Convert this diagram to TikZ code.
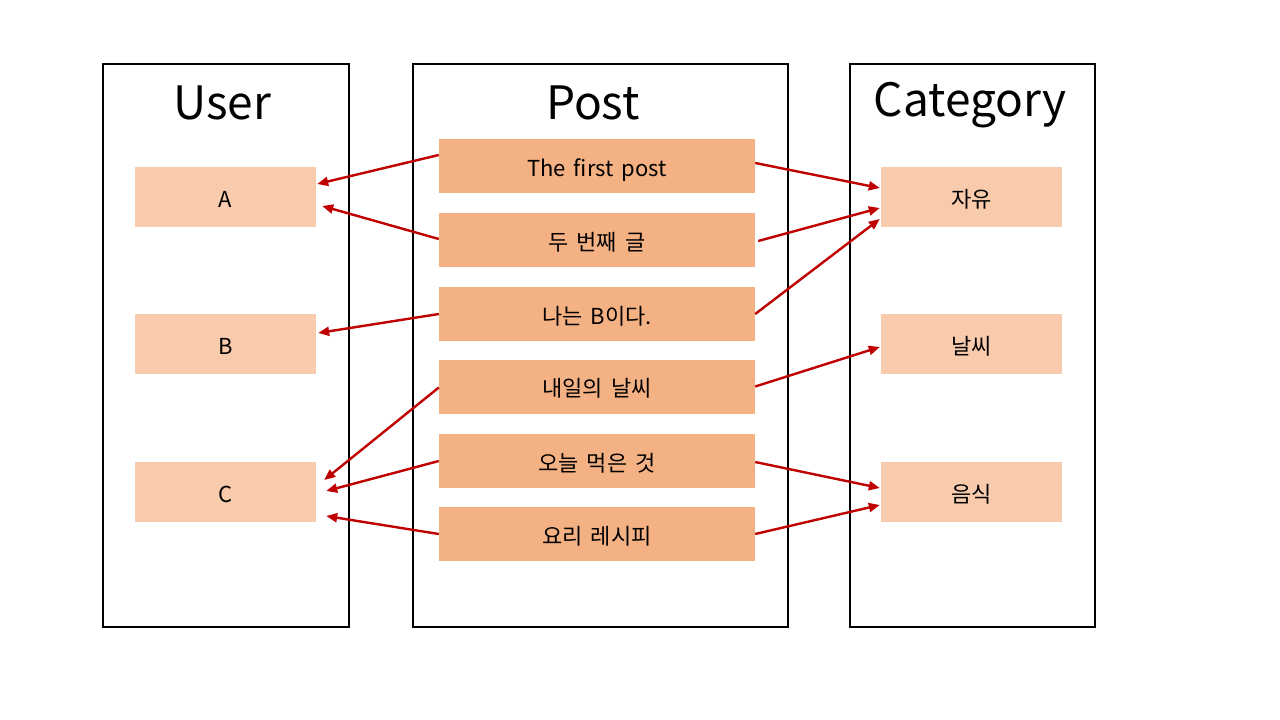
\documentclass[tikz,border=0pt]{standalone}
\usepackage{fontspec}
\setmainfont[WordSpace=1.6]{Noto Sans CJK KR}
\usetikzlibrary{arrows.meta}
\definecolor{darkpeach}{HTML}{F4B183}
\definecolor{lightpeach}{HTML}{F8CBAD}
\definecolor{arrowred}{HTML}{C00000}
\tikzset{
  panel/.style={draw=black, line width=2pt, anchor=north west, inner sep=0pt},
  title/.style={font=\fontsize{46}{50}\selectfont, anchor=center, inner sep=0pt},
  item/.style={fill=lightpeach, draw=none, minimum width=181pt, minimum height=60pt, inner sep=0pt, text height=23pt, text depth=3pt, font=\fontsize{22}{24}\selectfont},
  post/.style={fill=darkpeach, draw=none, minimum width=316pt, minimum height=54pt, inner sep=0pt, text height=23pt, text depth=3pt, font=\fontsize{22}{24}\selectfont},
  link/.style={draw=arrowred, line width=2.4pt, -{Triangle[length=11pt,width=9pt]}}
}
\begin{document}
\begin{tikzpicture}[x=1pt,y=-1pt]
\useasboundingbox[fill=white] (0,0) rectangle (1280,720);
% panels
\node[panel, minimum width=246pt, minimum height=563pt] (userpanel) at (102,63) {};
\node[panel, minimum width=375pt, minimum height=563pt] (postpanel) at (412,63) {};
\node[panel, minimum width=245pt, minimum height=563pt] (catpanel) at (849,63) {};
\node[title] (usertitle) at (222,103) {User};
\node[title] (posttitle) at (593,103) {Post};
\node[title] (cattitle) at (970,105) {Category};
% users
\node[item] (A) at (225.5,197) {A};
\node[item] (B) at (225.5,344) {B};
\node[item] (C) at (225.5,492) {C};
% posts
\node[post] (p1) at (597,166) {The first post};
\node[post] (p2) at (597,240) {두 번째 글};
\node[post] (p3) at (597,314) {나는 B이다.};
\node[post] (p4) at (597,386.5) {내일의 날씨};
\node[post] (p5) at (597,461) {오늘 먹은 것};
\node[post] (p6) at (597,534) {요리 레시피};
% categories
\node[item] (k1) at (971.5,197) {자유};
\node[item] (k2) at (971.5,344) {날씨};
\node[item] (k3) at (971.5,492) {음식};
% links to users
\draw[link] ([shift={(0,-11)}]p1.west) -- ([shift={(1,-13)}]A.east);
\draw[link] ([shift={(0,-1)}]p2.west) -- ([shift={(6,9)}]A.east);
\draw[link] (p3.west) -- ([shift={(2,-11)}]B.east);
\draw[link] ([shift={(0,1)}]p4.west) -- ([shift={(8,-12)}]C.east);
\draw[link] (p5.west) -- ([shift={(10,-1)}]C.east);
\draw[link] (p6.west) -- ([shift={(10,24)}]C.east);
% links to categories
\draw[link] ([shift={(0,-3)}]p1.east) -- ([shift={(-1,-9)}]k1.west);
\draw[link] ([shift={(3,1)}]p2.east) -- ([shift={(-1,11)}]k1.west);
\draw[link] (p3.east) -- ([shift={(-1,22)}]k1.west);
\draw[link] (p4.east) -- ([shift={(-1,3)}]k2.west);
\draw[link] ([shift={(0,1)}]p5.east) -- ([shift={(-1,-4)}]k3.west);
\draw[link] (p6.east) -- ([shift={(-1,13)}]k3.west);
\end{tikzpicture}
\end{document}
